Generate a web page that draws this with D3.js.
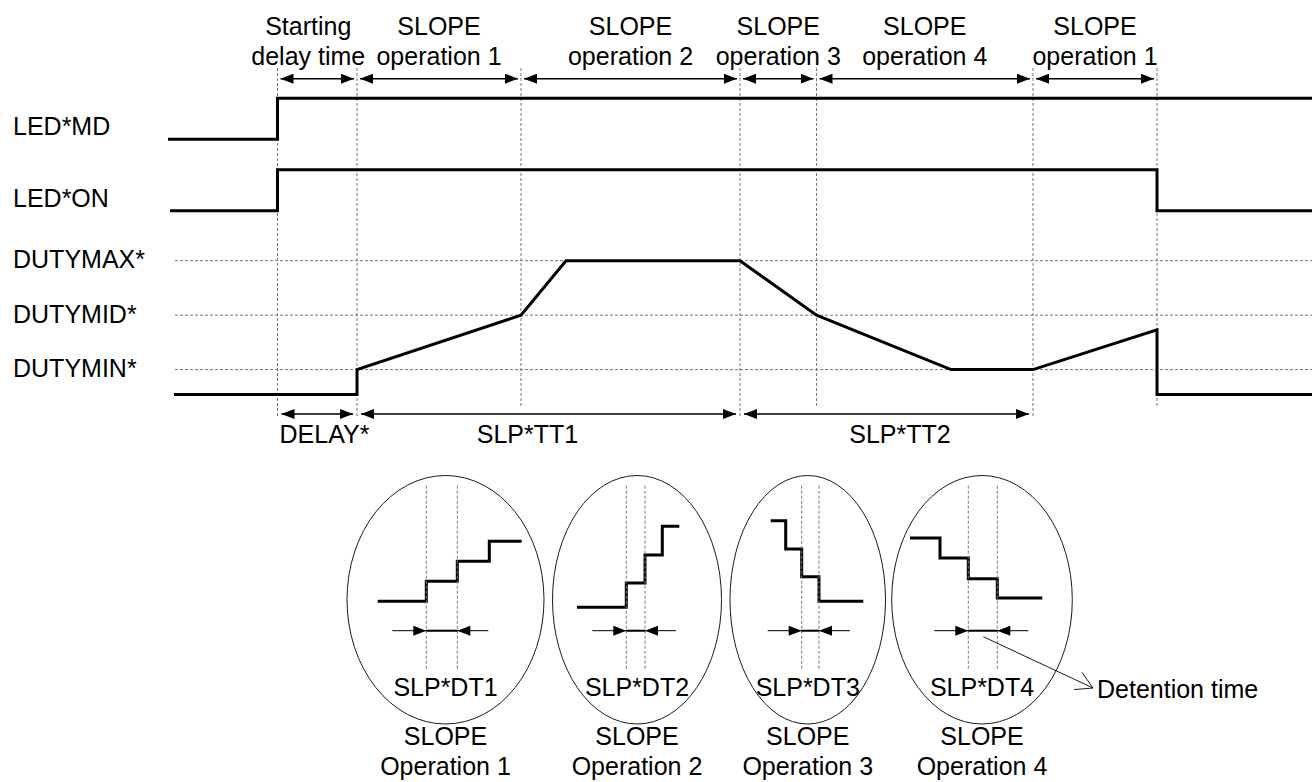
<!DOCTYPE html>
<html>
<head>
<meta charset="utf-8">
<script src="https://cdn.jsdelivr.net/npm/d3@7"></script>
<style>
  body { margin: 0; background: #fff; }
  text { font-family: "Liberation Sans", Arial, sans-serif; font-size: 25px; fill: #000; }
</style>
</head>
<body>
<svg id="chart" width="1312" height="782"></svg>
<script>
// ---------- data ----------
// phase boundaries on the time axis (arbitrary time units)
const edges = [10.95, 18.9, 35.3, 57.2, 64.85, 86.5, 98.9];
const phaseLabels = [
  ["Starting", "delay time"],
  ["SLOPE", "operation 1"],
  ["SLOPE", "operation 2"],
  ["SLOPE", "operation 3"],
  ["SLOPE", "operation 4"],
  ["SLOPE", "operation 1"]
];
const ledRows = ["LED*MD", "LED*ON"];
const ledMd = [[0, 0], [10.95, 0], [10.95, 1], [114.4, 1]];
const ledOn = [[0.2, 0], [10.95, 0], [10.95, 1], [98.9, 1], [98.9, 0], [114.4, 0]];

const dutyNames = ["DUTYMAX*", "DUTYMID*", "DUTYMIN*"];
const dutyValues = [100, 59.3, 18.6];
const duty = [[0.6, 0], [18.9, 0], [18.9, 18.6], [35.3, 59.3], [39.8, 100], [57.2, 100],
              [64.85, 59.3], [78.3, 18.6], [86.5, 18.6], [98.9, 48.4], [98.9, 0], [114.4, 0]];

// bottom time spans: edge index from/to, label, label centre (time units)
const spanFrom = [0, 1, 3];
const spanTo = [1, 3, 5];
const spanLabels = ["DELAY*", "SLP*TT1", "SLP*TT2"];
const spanLabelAt = [15.65, 35.95, 73.2];

// insets: ellipse extent, stair breakpoints and levels (inset units)
const insetNames = ["SLP*DT1", "SLP*DT2", "SLP*DT3", "SLP*DT4"];
const insetCaption = ["Operation 1", "Operation 2", "Operation 3", "Operation 4"];
const ellipseSpan = [[0, 19.7], [20.55, 37.45], [38.3, 53.85], [54.47, 72.53]];
const ellipseV = [-11.4, 13.45];
const stairX = [
  [3.07, 7.93, 11.03, 14.23, 17.47],
  [23.0, 27.93, 29.8, 31.53, 33.23],
  [42.37, 43.87, 45.47, 47.2, 51.63],
  [56.3, 59.3, 62.13, 65.03, 69.53]
];
const stairLevel = [
  [0.87, 2.87, 4.87, 6.87],
  [0.27, 2.7, 5.5, 8.37],
  [8.93, 6.1, 3.33, 0.87],
  [7.2, 5.2, 3.13, 1.2]
];
const dwellStep = [1, 1, 2, 2]; // detention measured between risers k and k+1
const calloutFrom = [63.63, -2.67];
const calloutTo = [74.6, -7.8];

// ---------- scales ----------
const svg = d3.select("#chart");
const x = d3.scaleLinear().domain([0, 114.4]).range([168, 1312]);
const ledY = d3.scalePoint().domain(ledRows).range([139.3, 210.7]);
const ledAmp = 41;
const yDuty = d3.scaleLinear().domain([0, 100]).range([394.5, 260.7]);
const ix = d3.scaleLinear().domain([0, 72.6]).range([347, 1073]);
const iy = d3.scaleLinear().domain([0, 10]).range([610, 510]);

const dash = sel => sel.attr("stroke", "#777").attr("stroke-width", 1)
  .attr("stroke-dasharray", "3,2").attr("fill", "none");

// arrowhead marker
const defs = svg.append("defs");
defs.append("marker").attr("id", "ah")
  .attr("markerUnits", "userSpaceOnUse")
  .attr("markerWidth", 13).attr("markerHeight", 10)
  .attr("refX", 13).attr("refY", 5)
  .attr("orient", "auto-start-reverse")
  .append("path").attr("d", "M0,0L13,5L0,10Z").attr("fill", "#000");

// ---------- guides ----------
const usedBottom = new Set([...spanFrom, ...spanTo]);
svg.append("g").selectAll("line").data(edges).join("line")
  .attr("x1", d => x(d)).attr("x2", d => x(d))
  .attr("y1", 68).attr("y2", (d, i) => usedBottom.has(i) ? 416 : 406)
  .call(dash);

svg.append("g").selectAll("line").data(dutyValues).join("line")
  .attr("x1", 175).attr("x2", 1312)
  .attr("y1", d => yDuty(d)).attr("y2", d => yDuty(d))
  .call(dash);

// ---------- row labels ----------
svg.append("g").selectAll("text").data(ledRows).join("text")
  .attr("x", 13).attr("y", d => ledY(d) - 4).text(d => d);
svg.append("g").selectAll("text").data(dutyNames).join("text")
  .attr("x", 13).attr("y", (d, i) => yDuty(dutyValues[i]) + 7.5).text(d => d);

// ---------- waveforms ----------
const line = d3.line();
[[ledMd, "LED*MD"], [ledOn, "LED*ON"]].forEach(([pts, row]) => {
  svg.append("path")
    .attr("d", line(pts.map(p => [x(p[0]), ledY(row) - p[1] * ledAmp])))
    .attr("fill", "none").attr("stroke", "#000").attr("stroke-width", 3);
});
svg.append("path")
  .attr("d", line(duty.map(p => [x(p[0]), yDuty(p[1])])))
  .attr("fill", "none").attr("stroke", "#000").attr("stroke-width", 3);

// ---------- top phase arrows ----------
const topG = svg.append("g");
phaseLabels.forEach((lab, i) => {
  const a = x(edges[i]), b = x(edges[i + 1]);
  topG.append("line").attr("x1", a + 3).attr("x2", b - 3)
    .attr("y1", 78.7).attr("y2", 78.7)
    .attr("stroke", "#000").attr("stroke-width", 1.4)
    .attr("marker-start", "url(#ah)").attr("marker-end", "url(#ah)");
  const cx = (a + b) / 2 - (i === 0 ? 9 : 0);
  topG.append("text").attr("x", cx).attr("y", 35).attr("text-anchor", "middle").text(lab[0]);
  topG.append("text").attr("x", cx).attr("y", 65).attr("text-anchor", "middle").text(lab[1]);
});

// ---------- bottom span arrows ----------
const botG = svg.append("g");
spanLabels.forEach((lab, i) => {
  const a = x(edges[spanFrom[i]]), b = x(edges[spanTo[i]]);
  botG.append("line").attr("x1", a + 4).attr("x2", b - 4)
    .attr("y1", 414).attr("y2", 414)
    .attr("stroke", "#000").attr("stroke-width", 1.4)
    .attr("marker-start", "url(#ah)").attr("marker-end", "url(#ah)");
  botG.append("text").attr("x", x(spanLabelAt[i])).attr("y", 443)
    .attr("text-anchor", "middle").text(lab);
});

// ---------- insets ----------
const inG = svg.append("g");
insetNames.forEach((name, i) => {
  const l = ix(ellipseSpan[i][0]), r = ix(ellipseSpan[i][1]);
  const top = iy(ellipseV[1]), bot = iy(ellipseV[0]);
  const cx = (l + r) / 2, cy = (top + bot) / 2;
  inG.append("ellipse").attr("cx", cx).attr("cy", cy)
    .attr("rx", (r - l) / 2).attr("ry", (bot - top) / 2)
    .attr("fill", "none").attr("stroke", "#000").attr("stroke-width", 0.9);

  const xs = stairX[i], lv = stairLevel[i];
  const pts = [[ix(xs[0]), iy(lv[0])]];
  for (let k = 1; k < xs.length - 1; k++) {
    pts.push([ix(xs[k]), iy(lv[k - 1])], [ix(xs[k]), iy(lv[k])]);
  }
  pts.push([ix(xs[xs.length - 1]), iy(lv[lv.length - 1])]);
  inG.append("path").attr("d", line(pts))
    .attr("fill", "none").attr("stroke", "#000").attr("stroke-width", 3);

  const b1 = ix(xs[dwellStep[i]]), b2 = ix(xs[dwellStep[i] + 1]);
  [b1, b2].forEach(b => inG.append("line")
    .attr("x1", b).attr("x2", b).attr("y1", iy(12.43)).attr("y2", iy(-6)).call(dash));

  const ay = iy(-2.07);
  inG.append("line").attr("x1", b1 - 34).attr("x2", b2 + 31).attr("y1", ay).attr("y2", ay)
    .attr("stroke", "#000").attr("stroke-width", 1);
  inG.append("line").attr("x1", b1).attr("x2", b2).attr("y1", ay).attr("y2", ay)
    .attr("stroke", "#000").attr("stroke-width", 2);
  inG.append("path").attr("d", `M${b1},${ay}L${b1 - 13},${ay - 5}L${b1 - 13},${ay + 5}Z`);
  inG.append("path").attr("d", `M${b2},${ay}L${b2 + 13},${ay - 5}L${b2 + 13},${ay + 5}Z`);

  inG.append("text").attr("x", cx).attr("y", bot - 28).attr("text-anchor", "middle").text(name);
  inG.append("text").attr("x", cx).attr("y", bot + 21).attr("text-anchor", "middle").text("SLOPE");
  inG.append("text").attr("x", cx).attr("y", bot + 51).attr("text-anchor", "middle").text(insetCaption[i]);
});

// ---------- detention time callout ----------
const p0 = [ix(calloutFrom[0]), iy(calloutFrom[1])];
const p1 = [ix(calloutTo[0]), iy(calloutTo[1])];
const ang = Math.atan2(p0[1] - p1[1], p0[0] - p1[0]);
inG.append("line").attr("x1", p0[0]).attr("y1", p0[1]).attr("x2", p1[0]).attr("y2", p1[1])
  .attr("stroke", "#000").attr("stroke-width", 0.9);
[ang + 0.52, ang - 0.52].forEach(a => inG.append("line")
  .attr("x1", p1[0]).attr("y1", p1[1])
  .attr("x2", p1[0] + 19 * Math.cos(a)).attr("y2", p1[1] + 19 * Math.sin(a))
  .attr("stroke", "#000").attr("stroke-width", 0.9));
inG.append("text").attr("x", p1[0] + 4).attr("y", p1[1] + 10).text("Detention time");
</script>
</body>
</html>
